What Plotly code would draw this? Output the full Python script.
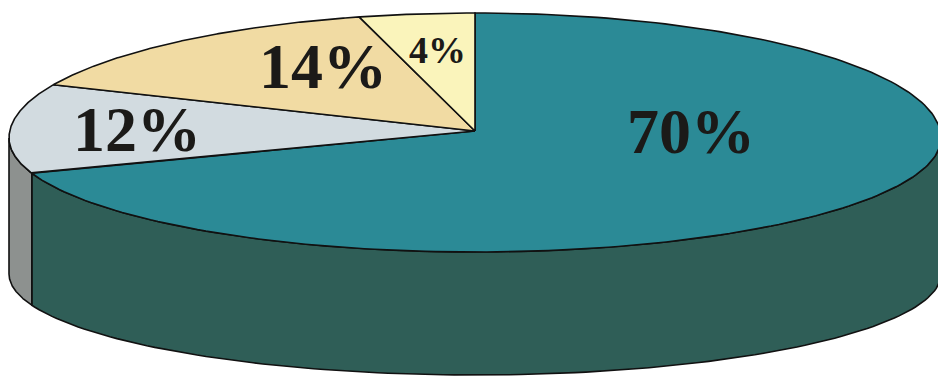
import numpy as np
import plotly.graph_objects as go

# ---- data ----
values = [70, 12, 14, 4]
value_labels = [f"{v}%" for v in values]

# ---- styles ----
top_colors = ["#2b8a96", "#d2dbe0", "#f1dba3", "#faf4bb"]
side_colors = ["#2f5e57", "#8d918f", "#b8a674", "#c0ba88"]
label_pos = [(691, 131), (137, 129), (323, 66), (437, 50)]
label_sizes = [64, 64, 64, 38]

# geometry (pixel-like coordinates, y downwards)
CX, CY, A = 475, 138, 466
BU, BL = 125, 114        # upper/lower semi-axes of top face
APEX_Y = 131
CY2, BB = 274, 101       # bottom rim
START = 90.0             # degrees, clockwise


def top_pt(t):
    r = np.radians(t)
    s = np.sin(r)
    b = np.where(s > 0, BU, BL)
    return CX + A * np.cos(r), CY - b * s


def bot_pt(t):
    r = np.radians(t)
    return CX + A * np.cos(r), CY2 - BB * np.sin(r)


total = float(sum(values))
spans = []
a = START
for v in values:
    w = 360.0 * v / total
    spans.append((a - w, a))
    a -= w

fig = go.Figure()

# side faces (front half: 180..360)
for i, (lo, hi) in enumerate(spans):
    for k in (-1, 0, 1):
        f0, f1 = 180 - 360 * k, 360 - 360 * k
        s0, s1 = max(lo, f0), min(hi, f1)
        if s1 - s0 > 0.01:
            th = np.linspace(s0, s1, 120)
            xt, yt = top_pt(th)
            xb, yb = bot_pt(th[::-1])
            xs = np.concatenate([xt, xb, xt[:1]])
            ys = np.concatenate([yt, yb, yt[:1]])
            fig.add_trace(go.Scatter(
                x=xs, y=ys, mode="lines", fill="toself",
                fillcolor=side_colors[i],
                line=dict(color="#111111", width=1.6),
                hoverinfo="skip", showlegend=False))

# top faces
for i, (lo, hi) in enumerate(spans):
    th = np.linspace(hi, lo, 200)
    xr, yr = top_pt(th)
    xs = np.concatenate([[CX], xr, [CX]])
    ys = np.concatenate([[APEX_Y], yr, [APEX_Y]])
    fig.add_trace(go.Scatter(
        x=xs, y=ys, mode="lines", fill="toself",
        fillcolor=top_colors[i],
        line=dict(color="#111111", width=1.6),
        hoverinfo="skip", showlegend=False))

for txt, (lx, ly), fs in zip(value_labels, label_pos, label_sizes):
    fig.add_annotation(
        x=lx, y=ly, text=f"<b>{txt}</b>", showarrow=False,
        xanchor="center", yanchor="middle",
        font=dict(family="Liberation Serif", size=fs, color="#1b1a18"))

fig.update_layout(
    width=938, height=377,
    margin=dict(l=0, r=0, t=0, b=0),
    paper_bgcolor="white", plot_bgcolor="white",
    xaxis=dict(range=[0, 938], visible=False, fixedrange=True),
    yaxis=dict(range=[377, 0], visible=False, fixedrange=True),
    showlegend=False,
)

fig.write_html("out.html")
